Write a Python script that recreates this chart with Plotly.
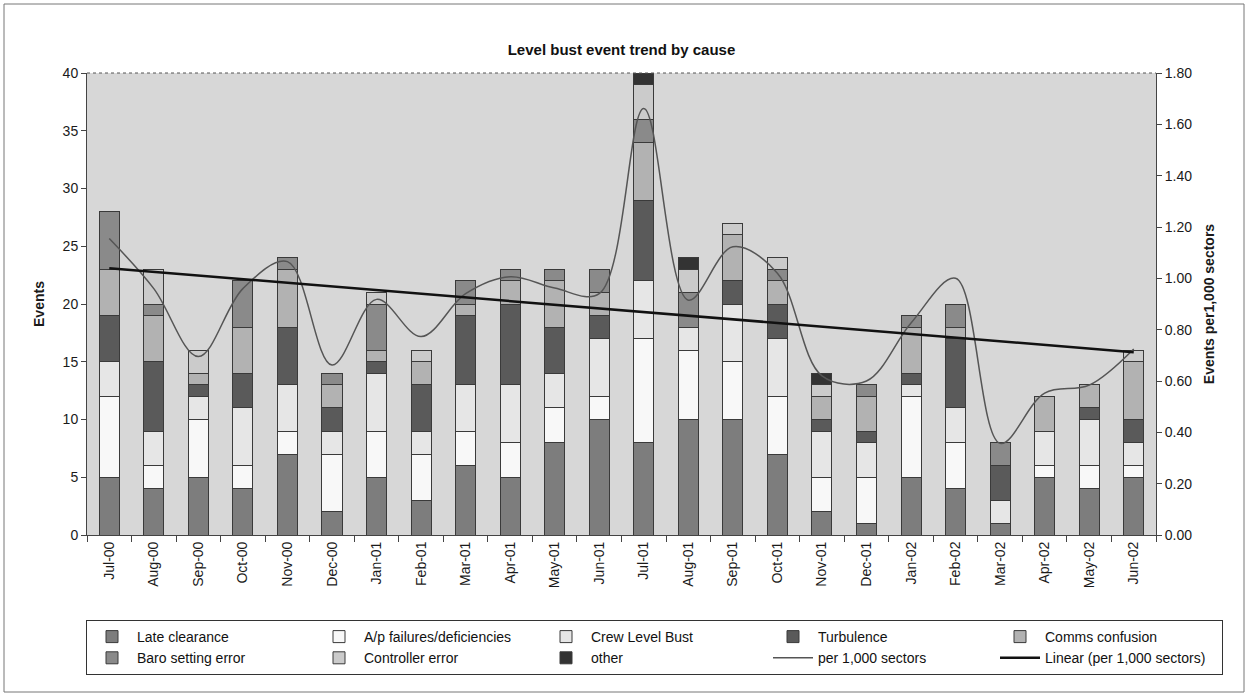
import numpy as np
import plotly.graph_objects as go

months = ["Jul-00", "Aug-00", "Sep-00", "Oct-00", "Nov-00", "Dec-00",
          "Jan-01", "Feb-01", "Mar-01", "Apr-01", "May-01", "Jun-01",
          "Jul-01", "Aug-01", "Sep-01", "Oct-01", "Nov-01", "Dec-01",
          "Jan-02", "Feb-02", "Mar-02", "Apr-02", "May-02", "Jun-02"]

late_clearance = [5, 4, 5, 4, 7, 2, 5, 3, 6, 5, 8, 10, 8, 10, 10, 7, 2, 1, 5, 4, 1, 5, 4, 5]
ap_failures    = [7, 2, 5, 2, 2, 5, 4, 4, 3, 3, 3, 2, 9, 6, 5, 5, 3, 4, 7, 4, 0, 1, 2, 1]
crew_bust      = [3, 3, 2, 5, 4, 2, 5, 2, 4, 5, 3, 5, 5, 2, 5, 5, 4, 3, 1, 3, 2, 3, 4, 2]
turbulence     = [4, 6, 1, 3, 5, 2, 1, 4, 6, 7, 4, 2, 7, 0, 2, 3, 1, 1, 1, 6, 3, 0, 1, 2]
comms          = [4, 4, 1, 4, 5, 2, 1, 2, 1, 2, 4, 2, 5, 0, 4, 2, 2, 3, 4, 1, 0, 3, 2, 5]
baro           = [5, 1, 0, 4, 1, 1, 4, 0, 2, 1, 1, 2, 2, 3, 0, 1, 0, 1, 1, 2, 2, 0, 0, 0]
controller     = [0, 3, 2, 0, 0, 0, 1, 1, 0, 0, 0, 0, 3, 2, 1, 1, 1, 0, 0, 0, 0, 0, 0, 1]
other          = [0, 0, 0, 0, 0, 0, 0, 0, 0, 0, 0, 0, 1, 1, 0, 0, 1, 0, 0, 0, 0, 0, 0, 0]

per_1000 = [1.155, 0.96, 0.695, 0.96, 1.065, 0.662, 0.918, 0.773, 0.94, 1.006, 0.962, 0.94,
            1.662, 0.915, 1.123, 1.02, 0.62, 0.60, 0.826, 1.0, 0.357, 0.553, 0.584, 0.725]

series = [
    ("Late clearance", late_clearance, "#7d7d7d"),
    ("A/p failures/deficiencies", ap_failures, "#f8f8f8"),
    ("Crew Level Bust", crew_bust, "#e6e6e6"),
    ("Turbulence", turbulence, "#5a5a5a"),
    ("Comms confusion", comms, "#b2b2b2"),
    ("Baro setting error", baro, "#8a8a8a"),
    ("Controller error", controller, "#cbcbcb"),
    ("other", other, "#333333"),
]

# linear trend of per-1,000 series
idx = np.arange(len(per_1000))
slope, intercept = np.polyfit(idx, per_1000, 1)
trend = slope * idx + intercept

fig = go.Figure()
for name, vals, col in series:
    fig.add_trace(go.Bar(
        x=months, y=vals, name=name,
        marker=dict(color=col, line=dict(color="#3a3a3a", width=1)),
    ))

fig.add_trace(go.Scatter(
    x=months, y=per_1000, name="per 1,000 sectors", yaxis="y2",
    mode="lines", line=dict(color="#555555", width=1.5, shape="spline", smoothing=1.0),
))
fig.add_trace(go.Scatter(
    x=months, y=trend, name="Linear (per 1,000 sectors)", yaxis="y2",
    mode="lines", line=dict(color="#111111", width=2.5),
))

font_family = "Liberation Sans, Arial, sans-serif"

# plot area pixel geometry
L, R, T, B = 87, 93, 73, 163
W, H = 1249, 698
pw, ph = W - L - R, H - T - B

def px_x(p):
    return (p - L) / pw

def px_y(p):
    return (H - B - p) / ph

fig.update_layout(
    width=W, height=H,
    margin=dict(l=L, r=R, t=T, b=B, autoexpand=False),
    paper_bgcolor="white",
    plot_bgcolor="#d7d7d7",
    barmode="stack",
    bargap=0.55,
    font=dict(family=font_family, color="#1a1a1a", size=14),
    title=dict(text="<b>Level bust event trend by cause</b>", x=0.5, xref="paper",
               y=1 - 50 / H, yref="container", yanchor="middle", xanchor="center",
               font=dict(size=15, color="#111111")),
    xaxis=dict(
        type="category", tickangle=-90, ticks="outside", tickson="boundaries",
        ticklen=6, tickcolor="#444", showline=True, linecolor="#444", linewidth=1,
        showgrid=False, tickfont=dict(size=14),
    ),
    yaxis=dict(
        range=[0, 40], dtick=5, ticks="outside", ticklen=5, tickcolor="#444",
        showline=True, linecolor="#444", linewidth=1, showgrid=False, zeroline=False,
        title=dict(text="<b>Events</b>", font=dict(size=14), standoff=14),
        tickfont=dict(size=14),
    ),
    yaxis2=dict(
        range=[0, 1.8], dtick=0.2, tickformat=".2f", overlaying="y", side="right",
        ticks="outside", ticklen=5, tickcolor="#444", showline=True, linecolor="#444",
        linewidth=1, showgrid=False, zeroline=False,
        title=dict(text="<b>Events per1,000 sectors</b>", font=dict(size=14), standoff=12),
        tickfont=dict(size=14),
    ),
    legend=dict(
        orientation="h", x=px_x(86), xanchor="left", y=px_y(620), yanchor="top",
        entrywidth=172, entrywidthmode="pixels", traceorder="normal",
        bordercolor="#333333", borderwidth=1, bgcolor="white",
        font=dict(size=14, color="#111111"), itemwidth=40,
    ),
    showlegend=True,
    shapes=[
        dict(type="line", xref="paper", yref="paper", x0=0, x1=1, y0=1, y1=1,
             line=dict(color="#555555", width=1, dash="dot")),
        dict(type="rect", xref="paper", yref="paper",
             x0=px_x(4), x1=px_x(1244), y0=px_y(692), y1=px_y(4),
             line=dict(color="#777777", width=1)),
    ],
)

fig.write_html("out.html")
